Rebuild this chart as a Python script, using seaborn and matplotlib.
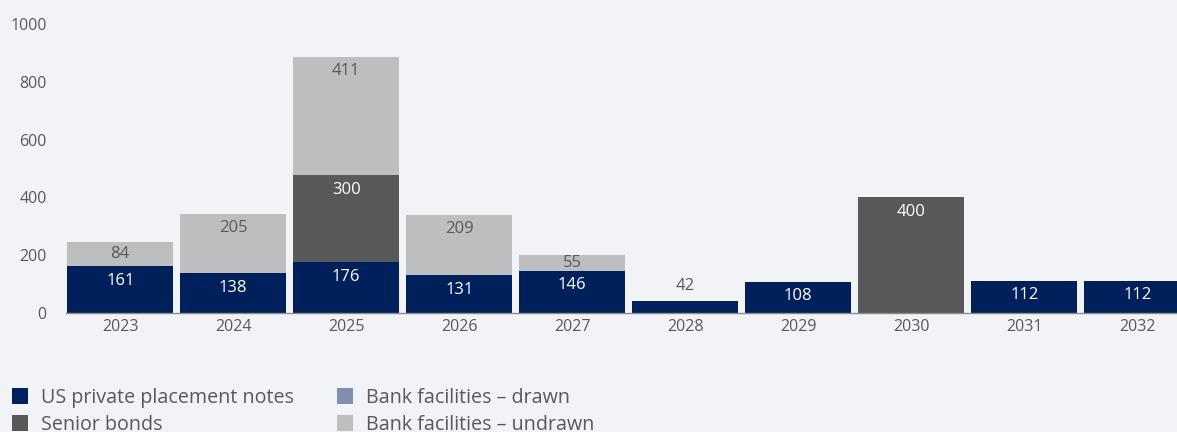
import matplotlib
matplotlib.use("Agg")
import matplotlib.pyplot as plt
import seaborn as sns
import numpy as np
from matplotlib.patches import Patch

years = ["2023", "2024", "2025", "2026", "2027", "2028", "2029", "2030", "2031", "2032"]
us_notes = [161, 138, 176, 131, 146, 42, 108, 0, 112, 112]
senior_bonds = [0, 0, 300, 0, 0, 0, 0, 400, 0, 0]
bank_drawn = [0, 0, 0, 0, 0, 0, 0, 0, 0, 0]
bank_undrawn = [84, 205, 411, 209, 55, 0, 0, 0, 0, 0]
series_names = ["US private placement notes", "Senior bonds",
                "Bank facilities – drawn", "Bank facilities – undrawn"]
y_ticks = [0, 200, 400, 600, 800, 1000]

colors = ["#00205B", "#58595B", "#7F8FAE", "#BDBEC0"]
label_colors = ["white", "white", "white", "#58595B"]
bg = "#F2F3F7"
txt = "#58595B"

sns.set_theme(style="white")
plt.rcParams["font.family"] = ["Open Sans", "DejaVu Sans"]

fig = plt.figure(figsize=(11.77, 4.32), dpi=100, facecolor=bg)
ax = fig.add_axes([66 / 1177, 119 / 432, 1125.5 / 1177, 289 / 432])
ax.set_facecolor(bg)

px_per_unit = 289 / 1000.0  # pixels per data unit (vertical)
series = [us_notes, senior_bonds, bank_drawn, bank_undrawn]
bottom = np.zeros(len(years))
for vals, col, lc in zip(series, colors, label_colors):
    v = np.array(vals, dtype=float)
    sns.barplot(x=years, y=v, bottom=bottom, color=col, saturation=1,
                width=0.94, ax=ax, linewidth=0)
    for i, val in enumerate(v):
        if val <= 0:
            continue
        top = bottom[i] + val
        if val < 60 and lc == "white":
            ax.annotate(f"{int(val)}", (i, top), xytext=(0, 5), textcoords="offset points",
                        ha="center", va="bottom", fontsize=12, color=txt)
        else:
            half_pt = val * px_per_unit / 2 * 0.72
            off = -min(10.5, half_pt)
            ax.annotate(f"{int(val)}", (i, top), xytext=(0, off), textcoords="offset points",
                        ha="center", va="center", fontsize=12, color=lc)
    bottom = bottom + v

ax.set_xlim(-0.48, 9.48)
ax.set_ylim(0, 1000)
ax.set_yticks(y_ticks)
ax.set_yticklabels([str(t) for t in y_ticks])
for s in ["top", "right", "left"]:
    ax.spines[s].set_visible(False)
ax.spines["bottom"].set_color("#8C8C8C")
ax.spines["bottom"].set_linewidth(1)
ax.tick_params(axis="both", length=0, colors=txt, labelsize=11.5)
ax.tick_params(axis="y", pad=14)
ax.tick_params(axis="x", pad=4)
ax.set_xlabel("")
ax.set_ylabel("")

handles = [Patch(facecolor=c, edgecolor="none") for c in colors]
fig.legend(handles, series_names, loc="upper left", bbox_to_anchor=(12 / 1177, 1 - 388 / 432),
           ncol=2, frameon=False, fontsize=14.2, labelcolor=txt,
           handlelength=0.82, handleheight=0.82, handletextpad=0.66,
           columnspacing=2.15, labelspacing=0.35, borderaxespad=0, borderpad=0)

fig.savefig("out.png", dpi=100, facecolor=bg)
